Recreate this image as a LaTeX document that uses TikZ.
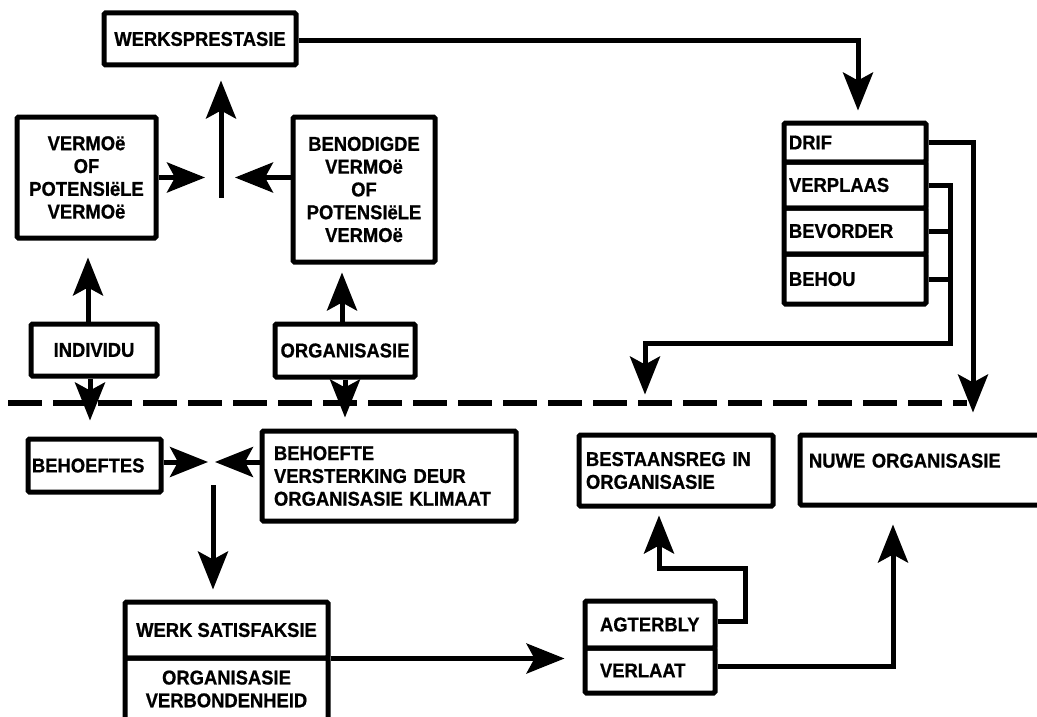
\documentclass[tikz,border=0pt]{standalone}
\usepackage{fontspec}
\setmainfont[FakeStretch=0.92,BoldFeatures={FakeBold=0.8,FakeStretch=0.92}]{Liberation Sans}
\usetikzlibrary{arrows.meta}
\begin{document}
\begin{tikzpicture}[x=1pt,y=-1pt,
  box/.style={draw, line width=5pt, rounded corners=1.5pt, inner sep=0pt, align=center,
    font=\bfseries\fontsize{20}{22.8}\selectfont},
  lbox/.style={box, align=left},
  arr/.style={line width=5pt, -{Stealth[length=38pt,width=30pt,inset=8pt]}},
  con/.style={line width=5pt},
  dashline/.style={line width=5.5pt, dash pattern=on 34pt off 11pt}]
\useasboundingbox (0,0) rectangle (1037,717);

% upper half
\node[box, minimum width=192pt, minimum height=52pt] (werk) at (200,39) {WERKSPRESTASIE};
\node[box, minimum width=139pt, minimum height=121pt] (verm) at (86.5,177.5) {VERMOë\\OF\\POTENSIëLE\\VERMOë};
\node[box, minimum width=142pt, minimum height=145pt] (beno) at (364,189.5) {BENODIGDE\\VERMOë\\OF\\POTENSIëLE\\VERMOë};
\node[box, minimum width=126pt, minimum height=52pt] (indiv) at (94,350) {INDIVIDU};
\node[box, minimum width=140pt, minimum height=53pt] (org) at (345,350.5) {ORGANISASIE};

\node[lbox, text width=132pt, minimum width=142pt, minimum height=39pt] (drif1) at (855,142.5) {DRIF};
\node[lbox, text width=132pt, minimum width=142pt, minimum height=46pt] (drif2) at (855,185) {VERPLAAS};
\node[lbox, text width=132pt, minimum width=142pt, minimum height=46pt] (drif3) at (855,231) {BEVORDER};
\node[lbox, text width=132pt, minimum width=142pt, minimum height=50pt] (drif4) at (855,279) {BEHOU};

% lower half
\node[lbox, text width=125pt, minimum width=133pt, minimum height=53pt] (beh) at (94.5,465.5) {BEHOEFTES};
\node[lbox, text width=230pt, minimum width=254pt, minimum height=90pt] (behv) at (389,476) {BEHOEFTE\\VERSTERKING DEUR\\ORGANISASIE KLIMAAT};
\node[lbox, text width=180pt, minimum width=194pt, minimum height=71pt] (best) at (676,470.5) {BESTAANSREG IN\\ORGANISASIE};
\node[lbox, text width=225pt, minimum width=243pt, minimum height=70pt] (nuwe) at (921.5,470) {NUWE ORGANISASIE\\[-4pt]\mbox{}};

\node[box, minimum width=203pt, minimum height=56pt] (ws1) at (226.5,630) {WERK SATISFAKSIE};
\node[box, minimum width=203pt, minimum height=62pt] (ws2) at (226.5,689) {ORGANISASIE\\VERBONDENHEID};

\node[lbox, text width=100pt, minimum width=130pt, minimum height=47pt] (agt1) at (650,624.5) {AGTERBLY};
\node[lbox, text width=100pt, minimum width=130pt, minimum height=45pt] (agt2) at (650,670.5) {VERLAAT};

% junctions
\coordinate (j1) at (221,177.5);
\coordinate (j2) at (213,462);
\coordinate (a1) at (745,568);
\coordinate (b1) at (950,343);
\coordinate (d1) at (8,403);
\coordinate (d2) at (967,403);

% dashed divider
\draw[dashline] (d1) -- (d2);

% connectors upper
\draw[arr, shorten >=10pt] ([yshift=-2pt]werk.east) -| ([xshift=3pt]drif1.north);
\draw[arr, shorten >=16pt] (verm.east) -- (j1);
\draw[arr, shorten >=14pt] (beno.west |- j1) -- (j1);
\draw[con] ([yshift=5.5pt]j1) -- ([yshift=-20pt]j1);
\draw[arr, shorten >=13pt] ([yshift=-20pt]j1) -- (j1 |- werk.south);
\draw[arr, shorten >=17pt] ([xshift=-6pt]indiv.north) -- ([xshift=-6pt]indiv.north |- verm.south);
\draw[arr, shorten >=8pt] ([xshift=-3pt]org.north) -- ([xshift=-3pt]org.north |- beno.south);
\draw[arr, shorten >=16pt] ([xshift=-4pt]indiv.south) -- ([xshift=-4pt]indiv.south |- beh.north);
\draw[arr, shorten >=11pt] (org.south) -- (org.south |- behv.north);

% DRIF and bracket
\draw[arr, shorten >=20pt] (drif1.east) -| ([xshift=51.5pt]nuwe.north);
\draw[arr, shorten >=38pt] (drif2.east) -| (b1) -| ([xshift=-31pt]best.north);
\draw[con] (drif3.east) -- (drif3.east -| b1);
\draw[con] (drif4.east) -- (drif4.east -| b1);

% connectors lower
\draw[arr, shorten >=5pt] (beh.east |- j2) -- (j2);
\draw[arr, shorten >=2pt] (behv.west |- j2) -- (j2);
\draw[arr, shorten <=23pt, shorten >=10pt] (j2) -- (j2 |- ws1.north);
\draw[arr, shorten >=18pt] ([yshift=2pt]ws1.south east) -- ([yshift=2pt]ws1.south east -| agt2.west);
\draw[arr, shorten >=7pt] ([yshift=3pt]agt1.east) -| (a1) -| ([xshift=-17pt]best.south);
\draw[arr, shorten >=17pt] ([yshift=4pt]agt2.east) -| ([xshift=-28.5pt]nuwe.south);
\end{tikzpicture}
\end{document}
